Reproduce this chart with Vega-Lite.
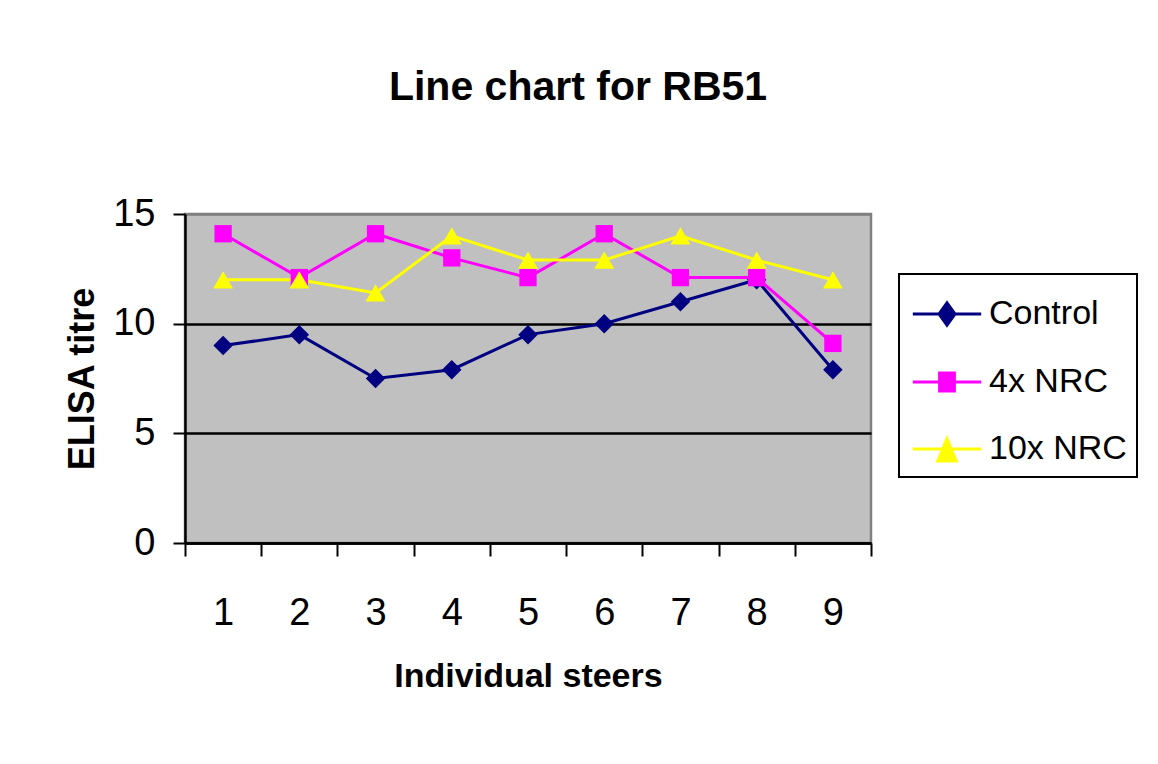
{
  "$schema": "https://vega.github.io/schema/vega-lite/v6.json",
  "autosize": {"type": "none"},
  "width": 686,
  "height": 329,
  "padding": {"left": 185, "top": 214, "right": 287, "bottom": 221},
  "background": "white",
  "title": {
    "text": "Line chart for RB51",
    "font": "Liberation Sans",
    "fontSize": 41,
    "fontWeight": "bold",
    "color": "black",
    "anchor": "middle",
    "dx": 50,
    "offset": 86
  },
  "data": {
    "values": [
      {"steer": "1", "series": "Control", "value": 9},
      {"steer": "2", "series": "Control", "value": 9.5},
      {"steer": "3", "series": "Control", "value": 7.5},
      {"steer": "4", "series": "Control", "value": 7.9},
      {"steer": "5", "series": "Control", "value": 9.5},
      {"steer": "6", "series": "Control", "value": 10},
      {"steer": "7", "series": "Control", "value": 11},
      {"steer": "8", "series": "Control", "value": 12},
      {"steer": "9", "series": "Control", "value": 7.9},
      {"steer": "1", "series": "4x NRC", "value": 14.1},
      {"steer": "2", "series": "4x NRC", "value": 12.1},
      {"steer": "3", "series": "4x NRC", "value": 14.1},
      {"steer": "4", "series": "4x NRC", "value": 13},
      {"steer": "5", "series": "4x NRC", "value": 12.1},
      {"steer": "6", "series": "4x NRC", "value": 14.1},
      {"steer": "7", "series": "4x NRC", "value": 12.1},
      {"steer": "8", "series": "4x NRC", "value": 12.1},
      {"steer": "9", "series": "4x NRC", "value": 9.1},
      {"steer": "1", "series": "10x NRC", "value": 12},
      {"steer": "2", "series": "10x NRC", "value": 12},
      {"steer": "3", "series": "10x NRC", "value": 11.4},
      {"steer": "4", "series": "10x NRC", "value": 14},
      {"steer": "5", "series": "10x NRC", "value": 12.9},
      {"steer": "6", "series": "10x NRC", "value": 12.9},
      {"steer": "7", "series": "10x NRC", "value": 14},
      {"steer": "8", "series": "10x NRC", "value": 12.9},
      {"steer": "9", "series": "10x NRC", "value": 12}
    ]
  },
  "encoding": {
    "x": {
      "field": "steer",
      "type": "ordinal",
      "scale": {"type": "band", "paddingInner": 0, "paddingOuter": 0},
      "axis": {
        "title": "Individual steers",
        "titleFont": "Liberation Sans",
        "titleFontSize": 34,
        "titleFontWeight": "bold",
        "titleColor": "black",
        "titlePadding": 27,
        "labelAngle": 0,
        "labelFont": "Liberation Sans",
        "labelFontSize": 38,
        "labelColor": "black",
        "labelPadding": 38,
        "tickBand": "extent",
        "tickSize": 13,
        "tickColor": "black",
        "tickWidth": 2,
        "domainColor": "black",
        "domainWidth": 2.5,
        "grid": false
      }
    },
    "y": {
      "field": "value",
      "type": "quantitative",
      "scale": {"domain": [0, 15], "nice": false},
      "axis": {
        "values": [0, 5, 10, 15],
        "title": "ELISA titre",
        "titleFont": "Liberation Sans",
        "titleFontSize": 36,
        "titleFontWeight": "bold",
        "titleColor": "black",
        "titlePadding": 11,
        "labelFont": "Liberation Sans",
        "labelFontSize": 38,
        "labelColor": "black",
        "labelPadding": 18,
        "tickSize": 12,
        "tickColor": "black",
        "tickWidth": 2,
        "domainColor": "black",
        "domainWidth": 2.5,
        "grid": true,
        "gridColor": {"condition": {"test": "datum.value === 15", "value": "#808080"}, "value": "black"},
        "gridWidth": 2.5
      }
    },
    "color": {
      "field": "series",
      "type": "nominal",
      "scale": {"domain": ["Control", "4x NRC", "10x NRC"], "range": ["#000080", "#FF00FF", "#FFFF00"]},
      "legend": {
        "title": null,
        "orient": "none",
        "legendX": 714,
        "legendY": 60,
        "strokeColor": "black",
        "fillColor": "white",
        "padding": 10,
        "symbolSize": 3249,
        "symbolStrokeWidth": 3,
        "symbolOffset": 8,
        "rowPadding": 20,
        "labelOffset": 12,
        "labelFont": "Liberation Sans",
        "labelFontSize": 34,
        "labelColor": "black",
        "encode": {
          "legend": {"update": {"strokeWidth": {"value": 2}}},
          "symbols": {
            "update": {
              "shape": {"signal": "datum.value === 'Control' ? 'M-1.2,0L1.2,0M0,-0.39L0.28,0L0,0.39L-0.28,0Z' : datum.value === '4x NRC' ? 'M-1.2,0L1.2,0M-0.26,-0.32L0.26,-0.32L0.26,0.32L-0.26,0.32Z' : 'M-1.2,0L1.2,0M0,-0.36L0.32,0.42L-0.32,0.42Z'"},
              "stroke": {"signal": "scale('color', datum.value)"},
              "fill": {"signal": "scale('color', datum.value)"},
              "strokeWidth": {"value": 3},
              "opacity": {"value": 1}
            }
          }
        }
      }
    }
  },
  "layer": [
    {
      "mark": {"type": "line", "strokeWidth": 3}
    },
    {
      "transform": [{"filter": "datum.series === 'Control'"}],
      "mark": {"type": "point", "shape": "diamond", "filled": true, "opacity": 1, "size": 380}
    },
    {
      "transform": [{"filter": "datum.series === '4x NRC'"}],
      "mark": {"type": "point", "shape": "square", "filled": true, "opacity": 1, "size": 300}
    },
    {
      "transform": [{"filter": "datum.series === '10x NRC'"}],
      "mark": {"type": "point", "shape": "triangle-up", "filled": true, "opacity": 1, "size": 400}
    }
  ],
  "config": {
    "view": {"fill": "#C0C0C0", "stroke": "#808080", "strokeWidth": 2.5}
  }
}
